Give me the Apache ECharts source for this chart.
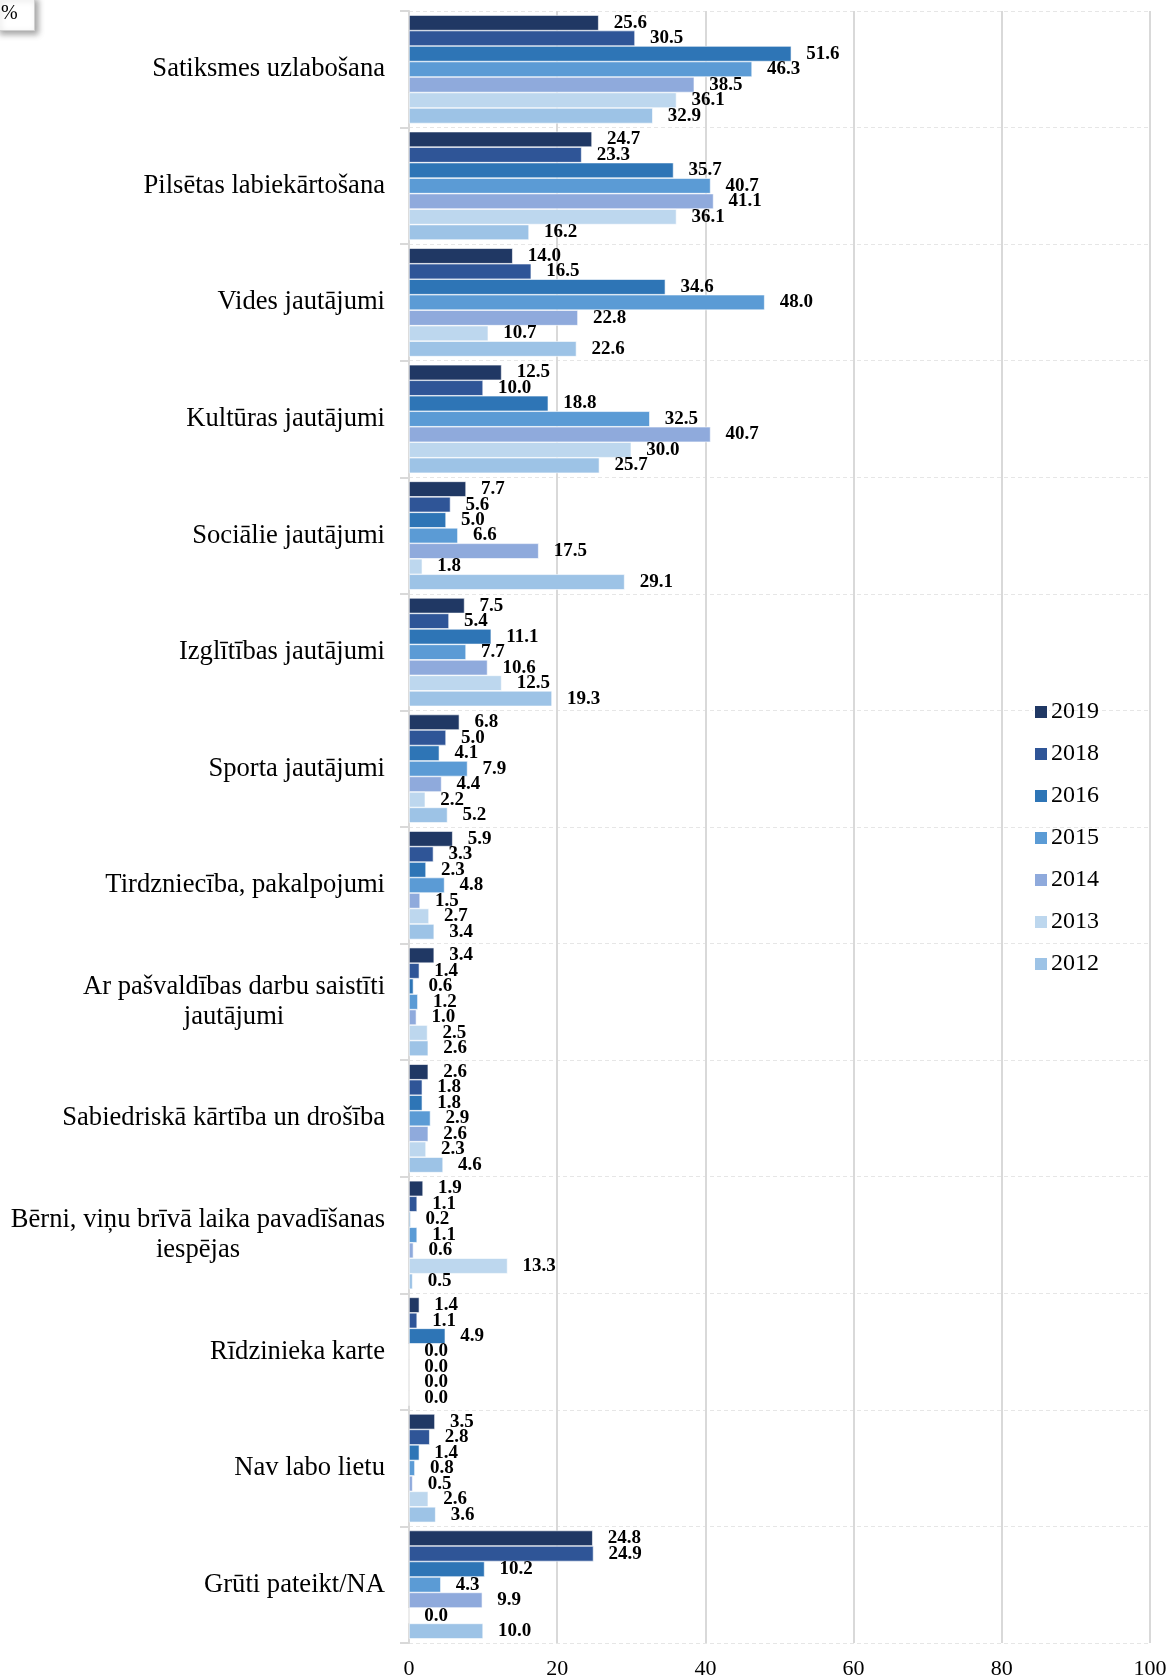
<!DOCTYPE html>
<html>
<head>
<meta charset="utf-8">
<script src="https://cdn.jsdelivr.net/npm/echarts@6/dist/echarts.min.js"></script>
<style>
html, body { margin: 0; padding: 0; background: #fff; }
#chart { width: 1172px; height: 1680px; }
</style>
</head>
<body>
<div id="chart"></div>
<script>
const categories = [
  'Satiksmes uzlabošana',
  'Pilsētas labiekārtošana',
  'Vides jautājumi',
  'Kultūras jautājumi',
  'Sociālie jautājumi',
  'Izglītības jautājumi',
  'Sporta jautājumi',
  'Tirdzniecība, pakalpojumi',
  'Ar pašvaldības darbu saistīti\njautājumi',
  'Sabiedriskā kārtība un drošība',
  'Bērni, viņu brīvā laika pavadīšanas\niespējas',
  'Rīdzinieka karte',
  'Nav labo lietu',
  'Grūti pateikt/NA'
];
const years = ['2019', '2018', '2016', '2015', '2014', '2013', '2012'];
const v2019 = [25.6, 24.7, 14.0, 12.5, 7.7, 7.5, 6.8, 5.9, 3.4, 2.6, 1.9, 1.4, 3.5, 24.8];
const v2018 = [30.5, 23.3, 16.5, 10.0, 5.6, 5.4, 5.0, 3.3, 1.4, 1.8, 1.1, 1.1, 2.8, 24.9];
const v2016 = [51.6, 35.7, 34.6, 18.8, 5.0, 11.1, 4.1, 2.3, 0.6, 1.8, 0.2, 4.9, 1.4, 10.2];
const v2015 = [46.3, 40.7, 48.0, 32.5, 6.6, 7.7, 7.9, 4.8, 1.2, 2.9, 1.1, 0.0, 0.8, 4.3];
const v2014 = [38.5, 41.1, 22.8, 40.7, 17.5, 10.6, 4.4, 1.5, 1.0, 2.6, 0.6, 0.0, 0.5, 9.9];
const v2013 = [36.1, 36.1, 10.7, 30.0, 1.8, 12.5, 2.2, 2.7, 2.5, 2.3, 13.3, 0.0, 2.6, 0.0];
const v2012 = [32.9, 16.2, 22.6, 25.7, 29.1, 19.3, 5.2, 3.4, 2.6, 4.6, 0.5, 0.0, 3.6, 10.0];
const xTicks = [0, 20, 40, 60, 80, 100];

const seriesValues = [v2019, v2018, v2016, v2015, v2014, v2013, v2012];
const colors = ['#203864', '#2f5597', '#2e75b6', '#5b9bd5', '#8faadc', '#bdd7ee', '#9dc3e6'];

const FONT = '"Liberation Serif", "Times New Roman", serif';
const catFontSize = 26.6;

// measure the first line so wrapped labels can be centred under it
const ctx = document.createElement('canvas').getContext('2d');
ctx.font = catFontSize + 'px ' + FONT;
function lineWidth(value) {
  let w = 0;
  value.split('\n').forEach(l => { w = Math.max(w, ctx.measureText(l).width); });
  return Math.round(w);
}
function catLabel(value) {
  if (value.indexOf('\n') < 0) return value;
  const w = lineWidth(value);
  return value.split('\n').map(l => '{c' + w + '|' + l + '}').join('\n');
}
const rich = {};
categories.forEach(c => {
  if (c.indexOf('\n') >= 0) {
    const w = lineWidth(c);
    rich['c' + w] = {
      width: w, align: 'center', fontFamily: FONT,
      fontSize: catFontSize, color: '#000', lineHeight: 30
    };
  }
});

var chartDom = document.getElementById('chart');
var myChart = echarts.init(chartDom, null, { renderer: 'canvas' });

var option = {
  backgroundColor: '#fff',
  animation: false,
  textStyle: { fontFamily: FONT },
  legend: {
    orient: 'vertical',
    left: 1028,
    top: 695,
    itemWidth: 14,
    itemHeight: 14,
    itemGap: 18,
    icon: 'rect',
    data: years,
    textStyle: { fontFamily: FONT, fontSize: 24, color: '#000', padding: [0, 0, 0, -2] }
  },
  grid: { left: 409, right: 22, top: 11, bottom: 31, containLabel: false },
  xAxis: {
    type: 'value',
    min: 0,
    max: 100,
    interval: 20,
    axisLine: { show: false },
    axisTick: { show: false },
    axisLabel: {
      fontFamily: FONT, fontSize: 22, color: '#000', margin: 15,
      formatter: v => xTicks.indexOf(v) >= 0 ? String(v) : ''
    },
    splitLine: { show: true, lineStyle: { color: '#d9d9d9', width: 2 } }
  },
  yAxis: {
    type: 'category',
    inverse: true,
    data: categories,
    axisLine: { show: true, lineStyle: { color: '#d9d9d9', width: 2 } },
    axisTick: { show: true, length: 9, lineStyle: { color: '#d9d9d9', width: 2 } },
    axisLabel: {
      fontFamily: FONT, fontSize: catFontSize, color: '#000', margin: 24,
      lineHeight: 30,
      formatter: catLabel,
      rich: rich
    },
    splitLine: { show: true, lineStyle: { color: '#e6e6e6', width: 1, type: [4, 3] } }
  },
  graphic: [
    {
      type: 'rect',
      left: -4, top: -4,
      shape: { width: 38, height: 34 },
      style: {
        fill: '#fff', stroke: '#d0d0d0', lineWidth: 1,
        shadowBlur: 6, shadowOffsetX: 3, shadowOffsetY: 3, shadowColor: 'rgba(0,0,0,0.35)'
      }
    },
    {
      type: 'text',
      left: 1, top: 4,
      style: { text: '%', fontFamily: FONT, fontSize: 20, fill: '#000' }
    }
  ],
  series: years.map((y, i) => ({
    name: y,
    type: 'bar',
    data: seriesValues[i],
    barGap: '0%',
    barCategoryGap: '7%',
    itemStyle: { color: colors[i], borderColor: '#fff', borderWidth: 0.6 },
    label: {
      show: true,
      position: 'right',
      distance: 15,
      formatter: p => p.value.toFixed(1),
      fontFamily: FONT,
      fontWeight: 'bold',
      fontSize: 19,
      color: '#000'
    }
  }))
};

option && myChart.setOption(option);
</script>
</body>
</html>
